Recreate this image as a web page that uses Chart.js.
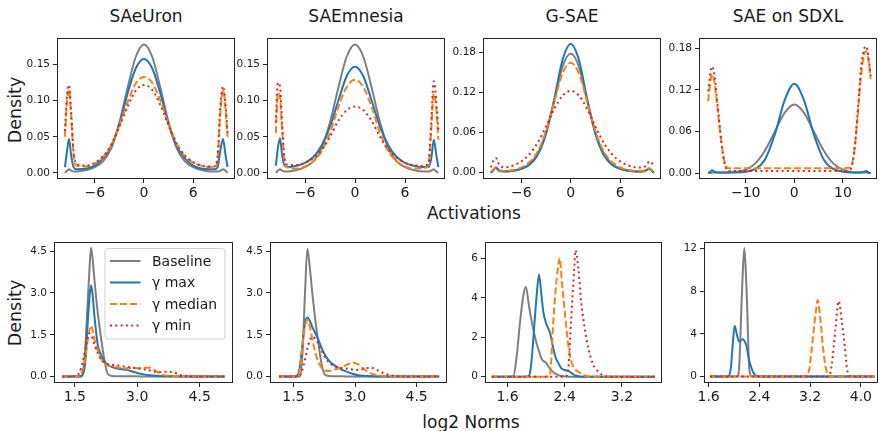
<!DOCTYPE html>
<html>
<head>
<meta charset="utf-8">
<script src="https://cdn.jsdelivr.net/npm/chart.js@4.4.0/dist/chart.umd.min.js"></script>
<style>
  body { margin: 0; background: #fff; width: 880px; height: 431px; overflow: hidden; position: relative; font-family: "DejaVu Sans", sans-serif; color: #1a1a1a; }
  canvas { position: absolute; }
  .title { position: absolute; font-size: 17px; line-height: 17px; white-space: nowrap; transform: translateX(-50%); }
  .xlab { position: absolute; font-size: 17px; line-height: 17px; white-space: nowrap; transform: translateX(-50%); }
  .ylab { position: absolute; font-size: 17.5px; line-height: 17px; white-space: nowrap; transform: translate(-50%, -50%) rotate(-90deg); }
</style>
</head>
<body>
<div class="title" style="left:146px; top:8px">SAeUron</div>
<div class="title" style="left:356px; top:8px">SAEmnesia</div>
<div class="title" style="left:572px; top:8px">G-SAE</div>
<div class="title" style="left:788px; top:8px">SAE on SDXL</div>
<div class="xlab" style="left:474px; top:205px">Activations</div>
<div class="xlab" style="left:471px; top:414px">log2 Norms</div>
<div class="ylab" style="left:14.6px; top:110px">Density</div>
<div class="ylab" style="left:14.6px; top:313px">Density</div>

<script>
// ---- data ----
const seriesNames = ['Baseline', 'γ max', 'γ median', 'γ min'];

// SAeUron activations
const saeuronX    = [-9.65, -9.4, -9.15, -8.9, -8.6, -8.2, -7, -6, -5, -4, -3, -2, -1, 0, 1, 2, 3, 4, 5, 6, 7, 8, 8.6, 9.0, 9.3, 9.65, 9.95, 10.2];
const saeuronBase = [0.000, 0.003, 0.005, 0.003, 0.002, 0.002, 0.004, 0.008, 0.016, 0.034, 0.070, 0.118, 0.161, 0.178, 0.161, 0.118, 0.070, 0.034, 0.016, 0.008, 0.004, 0.002, 0.002, 0.002, 0.003, 0.005, 0.003, 0.000];
const saeuronMax  = [0.008, 0.030, 0.047, 0.025, 0.008, 0.005, 0.006, 0.010, 0.020, 0.037, 0.068, 0.110, 0.145, 0.158, 0.145, 0.110, 0.068, 0.037, 0.020, 0.010, 0.006, 0.005, 0.005, 0.008, 0.030, 0.047, 0.025, 0.008];
const saeuronMed  = [0.050, 0.100, 0.115, 0.080, 0.025, 0.010, 0.009, 0.013, 0.022, 0.038, 0.066, 0.098, 0.124, 0.133, 0.125, 0.100, 0.068, 0.040, 0.023, 0.014, 0.010, 0.008, 0.008, 0.020, 0.080, 0.115, 0.090, 0.050];
const saeuronMin  = [0.058, 0.108, 0.122, 0.085, 0.030, 0.012, 0.010, 0.014, 0.023, 0.039, 0.064, 0.092, 0.114, 0.122, 0.115, 0.094, 0.066, 0.040, 0.024, 0.015, 0.010, 0.009, 0.009, 0.025, 0.090, 0.120, 0.095, 0.055];

// SAEmnesia activations
const saemnesiaX    = [-9.5, -9.25, -9.0, -8.75, -8.45, -8.0, -7, -6, -5, -4, -3, -2, -1, 0, 1, 2, 3, 4, 5, 6, 7, 8, 8.8, 9.15, 9.45, 9.75, 10.0];
const saemnesiaBase = [0.000, 0.003, 0.005, 0.003, 0.002, 0.002, 0.004, 0.008, 0.016, 0.034, 0.070, 0.118, 0.161, 0.178, 0.161, 0.118, 0.070, 0.034, 0.016, 0.008, 0.004, 0.002, 0.002, 0.003, 0.005, 0.002, 0.000];
const saemnesiaMax  = [0.010, 0.035, 0.048, 0.025, 0.010, 0.008, 0.010, 0.014, 0.022, 0.038, 0.064, 0.100, 0.134, 0.147, 0.134, 0.100, 0.064, 0.038, 0.022, 0.014, 0.010, 0.008, 0.008, 0.020, 0.046, 0.025, 0.008];
const saemnesiaMed  = [0.055, 0.110, 0.105, 0.060, 0.015, 0.007, 0.006, 0.009, 0.016, 0.030, 0.056, 0.091, 0.119, 0.129, 0.119, 0.091, 0.056, 0.030, 0.016, 0.009, 0.006, 0.006, 0.010, 0.060, 0.110, 0.090, 0.046];
const saemnesiaMin  = [0.070, 0.125, 0.120, 0.070, 0.020, 0.011, 0.011, 0.014, 0.021, 0.032, 0.050, 0.072, 0.087, 0.092, 0.087, 0.072, 0.050, 0.032, 0.021, 0.014, 0.011, 0.010, 0.012, 0.070, 0.127, 0.100, 0.060];

// G-SAE activations
const gsaeX    = [-9.7, -9.4, -9.1, -8.7, -8, -7, -6, -5, -4, -3, -2, -1, 0, 1, 2, 3, 4, 5, 6, 7, 8, 8.7, 9.2, 9.55, 9.85, 10.1];
const gsaeBase = [0.000, 0.004, 0.008, 0.003, 0.002, 0.003, 0.006, 0.013, 0.029, 0.060, 0.107, 0.158, 0.178, 0.158, 0.107, 0.060, 0.029, 0.013, 0.006, 0.003, 0.002, 0.002, 0.004, 0.006, 0.003, 0.000];
const gsaeMax  = [0.000, 0.004, 0.008, 0.003, 0.002, 0.003, 0.006, 0.012, 0.027, 0.058, 0.110, 0.168, 0.192, 0.168, 0.110, 0.058, 0.027, 0.012, 0.006, 0.003, 0.002, 0.002, 0.004, 0.006, 0.003, 0.000];
const gsaeMed  = [0.002, 0.005, 0.008, 0.004, 0.003, 0.004, 0.008, 0.016, 0.032, 0.062, 0.106, 0.148, 0.164, 0.148, 0.106, 0.062, 0.032, 0.016, 0.008, 0.004, 0.003, 0.003, 0.004, 0.007, 0.004, 0.001];
const gsaeMin  = [0.008, 0.018, 0.022, 0.012, 0.008, 0.011, 0.017, 0.028, 0.045, 0.069, 0.095, 0.115, 0.122, 0.115, 0.095, 0.069, 0.045, 0.028, 0.017, 0.011, 0.008, 0.008, 0.011, 0.017, 0.015, 0.010];

// SAE on SDXL activations
const sdxlX    = [-17.7, -17.3, -16.9, -16.4, -15.8, -15.0, -14.2, -13.5, -12, -10, -8, -6, -4, -2, 0, 2, 4, 6, 8, 10, 11.5, 12.3, 13.0, 13.7, 14.3, 14.8, 15.3, 15.7];
const sdxlBase = [0.000, 0.000, 0.001, 0.001, 0.001, 0.001, 0.001, 0.001, 0.002, 0.005, 0.014, 0.033, 0.060, 0.087, 0.099, 0.087, 0.060, 0.033, 0.014, 0.005, 0.002, 0.001, 0.001, 0.001, 0.001, 0.001, 0.000, 0.000];
const sdxlMax  = [0.000, 0.002, 0.004, 0.002, 0.001, 0.001, 0.001, 0.001, 0.001, 0.002, 0.006, 0.020, 0.056, 0.105, 0.129, 0.105, 0.056, 0.020, 0.006, 0.002, 0.001, 0.001, 0.001, 0.001, 0.002, 0.003, 0.001, 0.000];
const sdxlMed  = [0.104, 0.130, 0.143, 0.130, 0.095, 0.045, 0.012, 0.007, 0.007, 0.007, 0.007, 0.007, 0.007, 0.007, 0.007, 0.007, 0.007, 0.007, 0.007, 0.007, 0.008, 0.030, 0.080, 0.140, 0.170, 0.176, 0.160, 0.136];
const sdxlMin  = [0.118, 0.143, 0.154, 0.140, 0.100, 0.045, 0.010, 0.003, 0.003, 0.003, 0.003, 0.003, 0.003, 0.003, 0.003, 0.003, 0.003, 0.003, 0.003, 0.003, 0.005, 0.030, 0.085, 0.150, 0.178, 0.183, 0.165, 0.140];

// SAeUron log2 norms
const normsAX    = [1.2, 1.55, 1.65, 1.7, 1.75, 1.8, 1.85, 1.89, 1.93, 1.97, 2.05, 2.13, 2.21, 2.29, 2.4, 2.55, 2.7, 2.85, 3.0, 3.15, 3.3, 3.45, 3.6, 3.75, 3.9, 4.05, 4.2, 4.5, 4.8, 5.1];
const normsABase = [0, 0, 0, 0.15, 1.0, 2.4, 3.8, 4.62, 4.2, 3.5, 2.3, 1.38, 0.6, 0.1, 0.02, 0.01, 0.01, 0.01, 0.01, 0, 0, 0, 0, 0, 0, 0, 0, 0, 0, 0];
const normsAMax  = [0, 0, 0.02, 0.1, 0.5, 1.7, 2.8, 3.28, 2.9, 2.2, 1.15, 0.78, 0.55, 0.42, 0.34, 0.28, 0.25, 0.2, 0.13, 0.08, 0.05, 0.03, 0.02, 0.01, 0.01, 0, 0, 0, 0, 0];
const normsAMed  = [0, 0.01, 0.1, 0.3, 0.65, 1.2, 1.65, 1.83, 1.65, 1.35, 0.95, 0.65, 0.48, 0.4, 0.36, 0.33, 0.3, 0.3, 0.3, 0.32, 0.32, 0.2, 0.07, 0.03, 0.02, 0.01, 0.01, 0, 0, 0];
const normsAMin  = [0, 0.04, 0.3, 0.6, 0.95, 1.35, 1.55, 1.5, 1.35, 1.15, 0.85, 0.62, 0.5, 0.45, 0.42, 0.4, 0.36, 0.33, 0.3, 0.26, 0.22, 0.17, 0.16, 0.18, 0.14, 0.05, 0.02, 0, 0, 0];

// SAEmnesia log2 norms
const normsBX    = [1.15, 1.5, 1.6, 1.66, 1.72, 1.78, 1.84, 1.9, 1.96, 2.02, 2.1, 2.18, 2.26, 2.36, 2.48, 2.6, 2.72, 2.84, 2.96, 3.08, 3.2, 3.32, 3.44, 3.56, 3.7, 3.85, 4.0, 4.2, 4.5, 4.8, 5.05];
const normsBBase = [0, 0, 0, 0, 0.8, 2.9, 4.6, 3.9, 3.0, 2.2, 1.3, 0.5, 0.08, 0.02, 0.01, 0.01, 0.01, 0, 0, 0, 0, 0, 0, 0, 0, 0, 0, 0, 0, 0, 0];
const normsBMax  = [0, 0, 0.05, 0.4, 1.15, 1.9, 2.12, 2.0, 1.78, 1.6, 1.35, 1.05, 0.8, 0.58, 0.42, 0.32, 0.22, 0.15, 0.09, 0.05, 0.03, 0.02, 0.01, 0, 0, 0, 0, 0, 0, 0, 0];
const normsBMed  = [0, 0, 0.03, 0.3, 1.1, 1.8, 2.03, 1.8, 1.35, 0.95, 0.55, 0.33, 0.22, 0.2, 0.24, 0.3, 0.37, 0.45, 0.5, 0.44, 0.3, 0.16, 0.09, 0.05, 0.02, 0.01, 0, 0, 0, 0, 0];
const normsBMin  = [0, 0, 0.01, 0.05, 0.25, 0.6, 1.0, 1.3, 1.43, 1.38, 1.2, 0.95, 0.72, 0.52, 0.38, 0.33, 0.3, 0.28, 0.25, 0.24, 0.27, 0.31, 0.3, 0.22, 0.12, 0.05, 0.02, 0.01, 0, 0, 0];

// G-SAE log2 norms
const normsCX    = [1.38, 1.6, 1.68, 1.73, 1.77, 1.82, 1.856, 1.9, 1.93, 2.0, 2.04, 2.07, 2.1, 2.14, 2.19, 2.24, 2.27, 2.31, 2.33, 2.36, 2.41, 2.45, 2.49, 2.53, 2.55, 2.59, 2.63, 2.68, 2.73, 2.8, 2.87, 2.93, 3.0, 3.2, 3.4, 3.66];
const normsCBase = [0, 0, 0.02, 1.1, 2.6, 4.1, 4.56, 3.6, 2.96, 1.77, 1.3, 0.95, 0.8, 0.7, 0.42, 0.22, 0.15, 0.08, 0.05, 0.03, 0.01, 0, 0, 0, 0, 0, 0, 0, 0, 0, 0, 0, 0, 0, 0, 0];
const normsCMax  = [0, 0, 0, 0, 0, 0, 0, 0.05, 0.6, 3.8, 5.19, 4.3, 3.3, 2.7, 2.28, 1.44, 1.0, 0.7, 0.55, 0.4, 0.33, 0.3, 0.2, 0.1, 0.06, 0.02, 0, 0, 0, 0, 0, 0, 0, 0, 0, 0];
const normsCMed  = [0, 0, 0, 0, 0, 0, 0, 0, 0, 0, 0, 0, 0, 0, 0.02, 2.8, 4.3, 5.66, 6.03, 4.81, 2.96, 1.6, 0.8, 0.45, 0.35, 0.25, 0.15, 0.06, 0.01, 0, 0, 0, 0, 0, 0, 0];
const normsCMin  = [0, 0, 0, 0, 0, 0, 0, 0, 0, 0, 0, 0, 0, 0, 0, 0, 0, 0, 0, 0, 0.02, 0.42, 2.96, 5.3, 6.42, 5.5, 3.8, 2.45, 1.44, 0.6, 0.25, 0.08, 0.01, 0, 0, 0];

// SAE on SDXL log2 norms
const normsDX    = [1.62, 1.9, 1.95, 1.98, 2.01, 2.05, 2.08, 2.12, 2.14, 2.163, 2.19, 2.205, 2.24, 2.27, 2.3, 2.35, 2.4, 3.1, 3.18, 3.22, 3.26, 3.29, 3.32, 3.36, 3.41, 3.46, 3.5, 3.54, 3.6, 3.65, 3.7, 3.75, 3.78, 3.82, 3.9, 4.22];
const normsDBase = [0, 0, 0, 0, 0, 0, 0.78, 7.0, 10.0, 12.05, 9.3, 7.0, 0.78, 0.05, 0, 0, 0, 0, 0, 0, 0, 0, 0, 0, 0, 0, 0, 0, 0, 0, 0, 0, 0, 0, 0, 0];
const normsDMax  = [0, 0, 0.8, 3.0, 4.77, 3.8, 3.27, 3.45, 3.5, 3.35, 3.0, 2.6, 1.5, 0.9, 0.42, 0.06, 0, 0, 0, 0, 0, 0, 0, 0, 0, 0, 0, 0, 0, 0, 0, 0, 0, 0, 0, 0];
const normsDMed  = [0, 0, 0, 0, 0, 0, 0, 0, 0, 0, 0, 0, 0, 0, 0, 0, 0, 0, 0.5, 2.3, 4.5, 6.1, 7.17, 5.45, 2.34, 0.47, 0.02, 0, 0, 0, 0, 0, 0, 0, 0, 0];
const normsDMin  = [0, 0, 0, 0, 0, 0, 0, 0, 0, 0, 0, 0, 0, 0, 0, 0, 0, 0, 0, 0, 0, 0, 0, 0, 0, 0, 0.05, 1.1, 4.5, 7.07, 5.14, 2.65, 0.78, 0.05, 0, 0];

// tick values
const actTicks   = [-6, 0, 6];
const sdxlTicks  = [-10, 0, 10];
const densTicksA = [0, 0.05, 0.10, 0.15];
const densTicksB = [0, 0.06, 0.12, 0.18];
const normTicksA = [1.5, 3.0, 4.5];
const normTicksB = [1.6, 2.4, 3.2];
const normTicksC = [1.6, 2.4, 3.2, 4.0];
const normDensA  = [0, 1.5, 3.0, 4.5];
const normDensB  = [0, 2, 4, 6];
const normDensC  = [0, 4, 8, 12];

// ---- styling ----
Chart.defaults.font.family = '"DejaVu Sans", sans-serif';
Chart.defaults.color = '#1a1a1a';

const lineColors = ['#7f7f7f', '#1f77b4', '#ff7f0e', '#d62728'];
const lineDash = [[], [], [7, 3], [2, 3.3]];

const fmt = (v, d) => (v < 0 ? '\u2212' : '') + Math.abs(v).toFixed(d);

const framePlugin = {
  id: 'frame',
  afterDraw(chart) {
    const a = chart.chartArea, c = chart.ctx;
    c.save();
    c.strokeStyle = '#262626';
    c.lineWidth = 1;
    c.strokeRect(a.left + 0.5, a.top + 0.5, a.right - a.left - 1, a.bottom - a.top - 1);
    c.restore();
  }
};

const legendPlugin = {
  id: 'boxLegend',
  afterDraw(chart) {
    const a = chart.chartArea, c = chart.ctx;
    const w = 120, h = 90.5;
    const x0 = a.right - 8 - w, y0 = a.top + 6.5, r = 3;
    c.save();
    c.beginPath();
    c.moveTo(x0 + r, y0);
    c.arcTo(x0 + w, y0, x0 + w, y0 + h, r);
    c.arcTo(x0 + w, y0 + h, x0, y0 + h, r);
    c.arcTo(x0, y0 + h, x0, y0, r);
    c.arcTo(x0, y0, x0 + w, y0, r);
    c.closePath();
    c.fillStyle = 'rgba(255,255,255,0.8)';
    c.fill();
    c.strokeStyle = '#d0d0d0';
    c.lineWidth = 1;
    c.stroke();
    c.font = '14px "DejaVu Sans"';
    c.textBaseline = 'middle';
    c.fillStyle = '#1a1a1a';
    seriesNames.forEach((name, i) => {
      const yy = y0 + 12.5 + i * 21.5;
      c.beginPath();
      c.setLineDash(lineDash[i]);
      c.strokeStyle = lineColors[i];
      c.lineWidth = 2;
      c.moveTo(x0 + 5, yy);
      c.lineTo(x0 + 35.5, yy);
      c.stroke();
      c.setLineDash([]);
      c.fillText(name, x0 + 47, yy + 1);
    });
    c.restore();
  }
};

const panels = [
  { box: [57, 38, 235, 179],  xr: [-10.62, 11.11], yr: [-0.0085, 0.187], xt: actTicks,   yt: densTicksA, xd: 0, yd: 2, xs: saeuronX,   ys: [saeuronBase, saeuronMax, saeuronMed, saeuronMin] },
  { box: [267, 38, 445, 179], xr: [-10.56, 10.8],  yr: [-0.0085, 0.187], xt: actTicks,   yt: densTicksA, xd: 0, yd: 2, xs: saemnesiaX, ys: [saemnesiaBase, saemnesiaMax, saemnesiaMed, saemnesiaMin] },
  { box: [483, 38, 661, 179], xr: [-10.66, 10.97], yr: [-0.0093, 0.201], xt: actTicks,   yt: densTicksB, xd: 0, yd: 2, xs: gsaeX,      ys: [gsaeBase, gsaeMax, gsaeMed, gsaeMin] },
  { box: [699, 38, 877, 179], xr: [-19.6, 17.0],   yr: [-0.0085, 0.195], xt: sdxlTicks,  yt: densTicksB, xd: 0, yd: 2, xs: sdxlX,      ys: [sdxlBase, sdxlMax, sdxlMed, sdxlMin] },
  { box: [54, 242, 233, 383],  xr: [1.0, 5.3],     yr: [-0.23, 4.83],    xt: normTicksA, yt: normDensA,  xd: 1, yd: 1, xs: normsAX,    ys: [normsABase, normsAMax, normsAMed, normsAMin], legend: true },
  { box: [270, 242, 447, 383], xr: [0.93, 5.24],   yr: [-0.23, 4.83],    xt: normTicksA, yt: normDensA,  xd: 1, yd: 1, xs: normsBX,    ys: [normsBBase, normsBMax, normsBMed, normsBMin] },
  { box: [485, 242, 662, 383], xr: [1.285, 3.76],  yr: [-0.32, 6.84],    xt: normTicksB, yt: normDensB,  xd: 1, yd: 0, xs: normsCX,    ys: [normsCBase, normsCMax, normsCMed, normsCMin] },
  { box: [704, 242, 878, 383], xr: [1.527, 4.27],  yr: [-0.6, 12.6],     xt: normTicksC, yt: normDensC,  xd: 1, yd: 0, xs: normsDX,    ys: [normsDBase, normsDMax, normsDMed, normsDMin] }
];

const padL = 50, padT = 12, padR = 10, padB = 32;

panels.forEach(p => {
  const w = p.box[2] - p.box[0], h = p.box[3] - p.box[1];
  const cv = document.createElement('canvas');
  cv.width = w + padL + padR;
  cv.height = h + padT + padB;
  cv.style.left = (p.box[0] - padL) + 'px';
  cv.style.top = (p.box[1] - padT) + 'px';
  cv.style.width = cv.width + 'px';
  cv.style.height = cv.height + 'px';
  document.body.appendChild(cv);

  const datasets = p.ys.map((ys, i) => ({
    label: seriesNames[i],
    data: p.xs.map((x, j) => ({ x: x, y: ys[j] })),
    borderColor: lineColors[i],
    borderWidth: 2,
    borderDash: lineDash[i],
    borderCapStyle: 'butt',
    pointRadius: 0,
    fill: false,
    cubicInterpolationMode: 'monotone',
    order: 3 - i
  }));

  const tickGrid = { display: true, drawOnChartArea: false, drawTicks: true, tickLength: 4, color: '#262626', lineWidth: 1 };

  new Chart(cv, {
    type: 'line',
    data: { datasets },
    options: {
      responsive: false,
      maintainAspectRatio: false,
      animation: false,
      events: [],
      devicePixelRatio: 1,
      layout: { padding: { left: 0, top: padT, right: padR, bottom: 0 } },
      plugins: { legend: { display: false }, tooltip: { enabled: false } },
      scales: {
        x: {
          type: 'linear',
          min: p.xr[0], max: p.xr[1],
          grid: tickGrid,
          border: { display: false },
          afterBuildTicks: s => { s.ticks = p.xt.map(v => ({ value: v })); },
          afterFit: s => { s.height = padB; },
          ticks: { autoSkip: false, maxRotation: 0, padding: 2, font: { size: 14 }, color: '#1a1a1a', callback: v => fmt(v, p.xd) }
        },
        y: {
          type: 'linear',
          min: p.yr[0], max: p.yr[1],
          grid: tickGrid,
          border: { display: false },
          afterBuildTicks: s => { s.ticks = p.yt.map(v => ({ value: v })); },
          afterFit: s => { s.width = padL; },
          ticks: { autoSkip: false, padding: 3, font: { size: 10.5 }, color: '#1a1a1a', callback: v => fmt(v, p.yd) }
        }
      }
    },
    plugins: p.legend ? [framePlugin, legendPlugin] : [framePlugin]
  });
});
</script>
</body>
</html>
